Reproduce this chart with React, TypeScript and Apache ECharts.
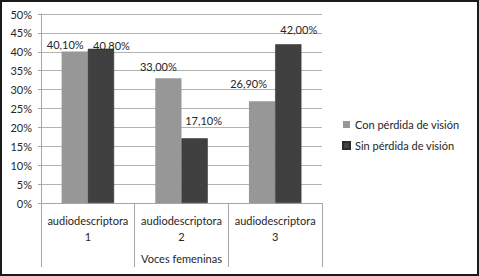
import React, { useEffect, useRef } from "react";
import * as echarts from "echarts";

const categories = ["audiodescriptora\n1", "audiodescriptora\n2", "audiodescriptora\n3"];
const seriesNames = ["Con pérdida de visión", "Sin pérdida de visión"];
const conPerdida = [40.1, 33.0, 26.9];
const sinPerdida = [40.8, 17.1, 42.0];
const axisTitle = "Voces femeninas";

const FONT = "Lato";
const TXT = "#262626";

export default function App() {
  const ref = useRef<HTMLDivElement>(null);
  useEffect(() => {
    document.body.style.margin = "0";
    const chart = echarts.init(ref.current!, null, { renderer: "svg" });
    const fmt = (p: any) => p.value.toFixed(2).replace(".", ",") + "%";
    const lightOffsets = [[-9.5, 3.5], [-10, -1.5], [-13.5, -7.5]];
    const darkOffsets = [[10.5, 7], [9, -7.5], [10.5, -4.5]];
    const mk = (vals: number[], offs: number[][]) =>
      vals.map((v, i) => ({ value: v, label: { offset: offs[i] } }));
    chart.setOption({
      animation: false,
      textStyle: { fontFamily: FONT },
      graphic: [
        {
          type: "rect",
          shape: { x: 1, y: 1, width: 477, height: 274 },
          style: { fill: "none", stroke: "#1a1a1a", lineWidth: 2 },
          silent: true,
        },
      ],
      grid: { left: 41, right: 157, top: 14, bottom: 73, containLabel: false },
      legend: {
        orient: "vertical",
        left: 337,
        top: 114,
        itemWidth: 7,
        itemHeight: 7,
        itemGap: 10,
        icon: "rect",
        textStyle: { fontFamily: FONT, fontSize: 11, color: TXT },
        data: seriesNames,
      },
      xAxis: {
        type: "category",
        data: categories,
        name: axisTitle,
        nameLocation: "middle",
        nameGap: 50,
        nameTextStyle: { fontFamily: FONT, fontSize: 11, color: TXT },
        axisLine: { show: true, lineStyle: { color: "#a6a6a6", width: 1 } },
        axisTick: { show: true, length: 64, interval: 0, lineStyle: { color: "#a6a6a6" } },
        axisLabel: {
          interval: 0,
          margin: 9,
          fontFamily: FONT,
          fontSize: 11,
          lineHeight: 16,
          color: TXT,
        },
      },
      yAxis: {
        type: "value",
        min: 0,
        max: 50,
        interval: 5,
        axisLine: { show: true, lineStyle: { color: "#a6a6a6" } },
        axisTick: { show: true, length: 3, lineStyle: { color: "#a6a6a6" } },
        axisLabel: { formatter: "{value}%", margin: 9, fontFamily: FONT, fontSize: 11, color: TXT },
        splitLine: { show: true, lineStyle: { color: "#b3b3b3", width: 1 } },
      },
      series: [
        {
          name: seriesNames[0],
          type: "bar",
          data: mk(conPerdida, lightOffsets),
          itemStyle: { color: "#979797" },
          barGap: "0%",
          barCategoryGap: "44%",
          label: { show: true, position: "top", formatter: fmt, fontFamily: FONT, fontSize: 11, color: TXT },
        },
        {
          name: seriesNames[1],
          type: "bar",
          data: mk(sinPerdida, darkOffsets),
          itemStyle: { color: "#404040", borderColor: "#2a2a2a", borderWidth: 0.5 },
          barGap: "0%",
          barCategoryGap: "44%",
          label: { show: true, position: "top", formatter: fmt, fontFamily: FONT, fontSize: 11, color: TXT },
        },
      ],
    });
    return () => chart.dispose();
  }, []);
  return <div ref={ref} style={{ width: 479, height: 276, background: "#fff" }} />;
}
